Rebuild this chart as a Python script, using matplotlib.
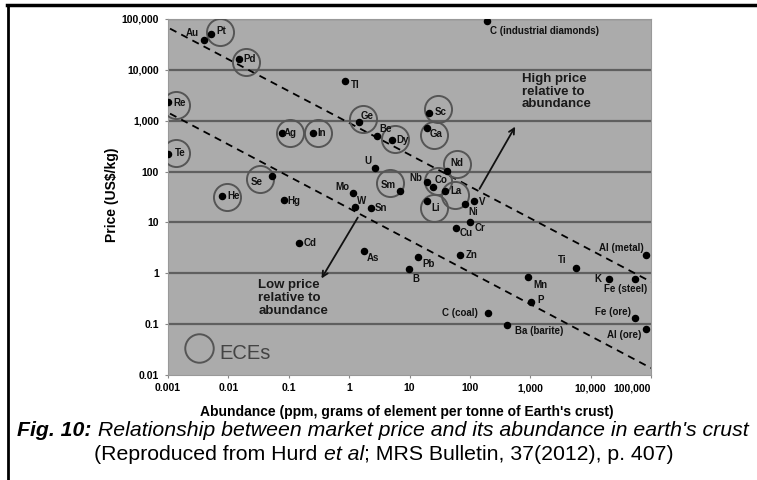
import numpy as np
import matplotlib
matplotlib.use("Agg")
import matplotlib.pyplot as plt
from matplotlib.transforms import offset_copy
from matplotlib.offsetbox import TextArea, HPacker, AnnotationBbox
from matplotlib.lines import Line2D

plt.rcParams['font.family'] = ['Liberation Sans', 'DejaVu Sans']

# element data: abundance (ppm) and price (US$/kg)
names = ["Au", "Pt", "Pd", "Tl", "Re", "Te", "Ag", "In", "Se", "He", "Hg",
         "Ge", "Be", "Dy", "Sc", "Ga", "U", "Nd", "Nb", "Co", "La", "Sm",
         "Li", "Ni", "V", "Mo", "W", "Sn", "Cd", "As", "Cr", "Cu", "Zn",
         "Pb", "B", "Mn", "P", "C (coal)", "Ba (barite)", "Ti", "Al (metal)",
         "K", "Fe (steel)", "Fe (ore)", "Al (ore)", "C (industrial diamonds)"]
abundance = [0.0040, 0.00515, 0.0151, 0.85, 0.001, 0.001, 0.076, 0.249, 0.052,
             0.0079, 0.084, 1.47, 2.85, 5.17, 21.2, 19.2, 2.67, 41.1, 19.6,
             24.7, 38.5, 6.93, 19.2, 82.6, 116, 1.17, 1.25, 2.27, 0.149, 1.78,
             100, 58.6, 68.3, 13.6, 9.9, 923, 1010, 196, 415, 5620, 81100,
             20200, 55300, 55300, 81100, 189]
price = [39400, 51600, 16100, 6050, 2340, 217, 576, 576, 81, 32.9, 27.4,
         947, 502, 427, 1422, 703, 115, 103, 62.8, 48.7, 41.8, 41.8, 26.2,
         22.9, 26.6, 37.1, 19.7, 18.8, 3.97, 2.77, 10.3, 7.62, 2.28, 2.11,
         1.19, 0.83, 0.268, 0.163, 0.096, 1.28, 2.28, 0.76, 0.77, 0.134,
         0.080, 91400]
ece = ["Pt", "Pd", "Re", "Te", "Ag", "In", "Se", "He", "Ge", "Dy", "Sc", "Ga",
       "Nd", "Sm", "Co", "La", "Li"]

# dashed guide lines (abundance, price at both ends)
high_line_x = [0.00108, 100000]
high_line_y = [64700, 0.68]
low_line_x = [0.00108, 100000]
low_line_y = [1380, 0.0137]

y_ticks = [0.01, 0.1, 1, 10, 100, 1000, 10000, 100000]
y_labels = ["0.01", "0.1", "1", "10", "100", "1,000", "10,000", "100,000"]
x_ticks = [0.001, 0.01, 0.1, 1, 10, 100, 1000, 10000, 100000]
x_labels = ["0.001", "0.01", "0.1", "1", "10", "100", "1,000", "10,000", "100,000"]

# label placement: (dx, dy) in pixels from the dot, ha
label_pos = {
    "Au": (-12, 7, "center"), "Pt": (10, 3, "center"), "Pd": (10, 0, "center"),
    "Tl": (10, -4, "center"), "Re": (12, -1, "center"), "Te": (12, 1, "center"),
    "Ag": (9, 0, "center"), "In": (9, 0, "center"), "Se": (-15, -6, "center"),
    "He": (11, 0, "center"), "Hg": (10, -1, "center"), "Ge": (8, 6, "center"),
    "Be": (9, 7, "center"), "Dy": (10, 0, "center"), "Sc": (11, 1, "center"),
    "Ga": (9, -6, "center"), "U": (-7, 7, "center"), "Nd": (10, 8, "center"),
    "Nb": (-11, 4, "center"), "Co": (8, 7, "center"), "La": (11, 0, "center"),
    "Sm": (-12, 6, "center"), "Li": (9, -7, "center"), "Ni": (8, -8, "center"),
    "V": (8, -1, "center"), "Mo": (-11, 6, "center"), "W": (7, 6, "center"),
    "Sn": (10, 0, "center"), "Cd": (11, 0, "center"), "As": (9, -7, "center"),
    "Cr": (10, -6, "center"), "Cu": (10, -5, "center"), "Zn": (12, 0, "center"),
    "Pb": (11, -7, "center"), "B": (7, -10, "center"), "Mn": (12, -8, "center"),
    "P": (10, 2, "center"), "C (coal)": (-10, 0, "right"),
    "Ba (barite)": (8, -6, "left"), "Ti": (-13, 8, "center"),
    "Al (metal)": (-2, 7, "right"), "K": (-11, 0, "center"),
    "Fe (steel)": (12, -10, "right"), "Fe (ore)": (-4, 6, "right"),
    "Al (ore)": (-4, -6, "right"), "C (industrial diamonds)": (3, -10, "left"),
}
# circle centre offsets from dot, pixels
circle_pos = {
    "Pt": (9, 2), "Pd": (7, -3), "Re": (8, -3), "Te": (8, 1), "Ag": (8, 0),
    "In": (5, 0), "Se": (-12, -3), "He": (5, -1), "Ge": (4, 3), "Dy": (3, 1),
    "Sc": (9, 4), "Ga": (7, -7), "Nd": (10, 7), "Sm": (-10, 8), "Co": (5, 6),
    "La": (10, -4), "Li": (7, -7),
}

fig = plt.figure(figsize=(7.57, 4.80), dpi=100)
ax = fig.add_axes([168 / 757, 105 / 480, 483 / 757, 356 / 480])
ax.set_facecolor("#ababab")
ax.set_xscale("log")
ax.set_yscale("log")
ax.set_xlim(0.001, 100000)
ax.set_ylim(0.01, 100000)

for yv in y_ticks[1:]:
    ax.axhline(yv, color="#5f5f5f", lw=1.6, zorder=1)

ax.plot(high_line_x, high_line_y, color="black", lw=1.3, ls=(0, (4, 3)), zorder=2)
ax.plot(low_line_x, low_line_y, color="black", lw=1.3, ls=(0, (4, 3)), zorder=2)

ax.plot(abundance, price, "o", color="black", ms=4.4, zorder=4, ls="none")

for name, xv, yv in zip(names, abundance, price):
    dx, dy, ha = label_pos[name]
    ax.annotate(name, (xv, yv), xytext=(dx, dy), textcoords="offset pixels",
                ha=ha, va="center", fontsize=7, fontweight="bold",
                color="#111111", zorder=5)
    if name in ece:
        cx, cy = circle_pos[name]
        tr = offset_copy(ax.transData, fig=fig, x=cx, y=cy, units="dots")
        ax.plot([xv], [yv], "o", ms=19.5, mfc="none", mec="#555555",
                mew=1.4, transform=tr, zorder=3)

# arrows
ax.annotate("", xy=(593, 853), xytext=(137, 41),
            arrowprops=dict(arrowstyle="->", color="#111111", lw=1.3), zorder=5)
ax.annotate("", xy=(0.33, 0.71), xytext=(1.47, 13.9),
            arrowprops=dict(arrowstyle="->", color="#111111", lw=1.3), zorder=5)

ax.text(720, 8800, "High price\nrelative to\nabundance", ha="left", va="top",
        fontsize=9.5, fontweight="bold", color="#1a1a1a", linespacing=1.1)
ax.text(0.0313, 0.76, "Low price\nrelative to\nabundance", ha="left", va="top",
        fontsize=9.5, fontweight="bold", color="#1a1a1a", linespacing=1.1)

# ECE legend
ax.plot([0.0033], [0.0335], "o", ms=20.5, mfc="none", mec="#555555", mew=1.4,
        clip_on=False)
ax.text(0.0072, 0.027, "ECEs", ha="left", va="center", fontsize=14.5,
        color="#444444")

ax.set_yticks(y_ticks)
ax.set_yticklabels(y_labels)
ax.set_xticks(x_ticks)
ax.set_xticklabels(x_labels)
ax.xaxis.get_ticklabels()[-1].set_horizontalalignment("right")
ax.minorticks_off()
ax.tick_params(labelsize=7.5, length=2.5, width=0.8, color="#888888", pad=4)
ax.tick_params(axis="x", pad=3.5)
for lab in ax.get_xticklabels() + ax.get_yticklabels():
    lab.set_fontweight("bold")
for sp in ax.spines.values():
    sp.set_color("#999999")
    sp.set_linewidth(0.8)

ax.set_ylabel("Price (US$/kg)", fontsize=10, fontweight="bold")
ax.yaxis.set_label_coords(-0.101, 0.506)
ax.set_xlabel("Abundance (ppm, grams of element per tonne of Earth's crust)",
              fontsize=10, fontweight="bold")
ax.xaxis.set_label_coords(0.495, -0.085)

# caption
cap_size = 15.3
cap1 = HPacker(children=[
    TextArea("Fig. 10:", textprops=dict(fontsize=cap_size, fontweight="bold", style="italic")),
    TextArea(" Relationship between market price and its abundance in earth's crust",
             textprops=dict(fontsize=cap_size, style="italic")),
], sep=0, align="baseline")
fig.add_artist(AnnotationBbox(cap1, (383 / 757, 1 - 431 / 480),
                              xycoords="figure fraction", frameon=False,
                              box_alignment=(0.5, 0.5), pad=0))
cap2 = HPacker(children=[
    TextArea("(Reproduced from Hurd ", textprops=dict(fontsize=cap_size)),
    TextArea("et al", textprops=dict(fontsize=cap_size, style="italic")),
    TextArea("; MRS Bulletin, 37(2012), p. 407)", textprops=dict(fontsize=cap_size)),
], sep=0, align="baseline")
fig.add_artist(AnnotationBbox(cap2, (384 / 757, 1 - 455 / 480),
                              xycoords="figure fraction", frameon=False,
                              box_alignment=(0.5, 0.5), pad=0))

# outer frame
fig.add_artist(Line2D([7 / 757, 1], [1 - 5 / 480, 1 - 5 / 480], color="black", lw=2.5))
fig.add_artist(Line2D([8 / 757, 8 / 757], [0, 1 - 5 / 480], color="black", lw=2))

fig.savefig("out.png", dpi=100)
